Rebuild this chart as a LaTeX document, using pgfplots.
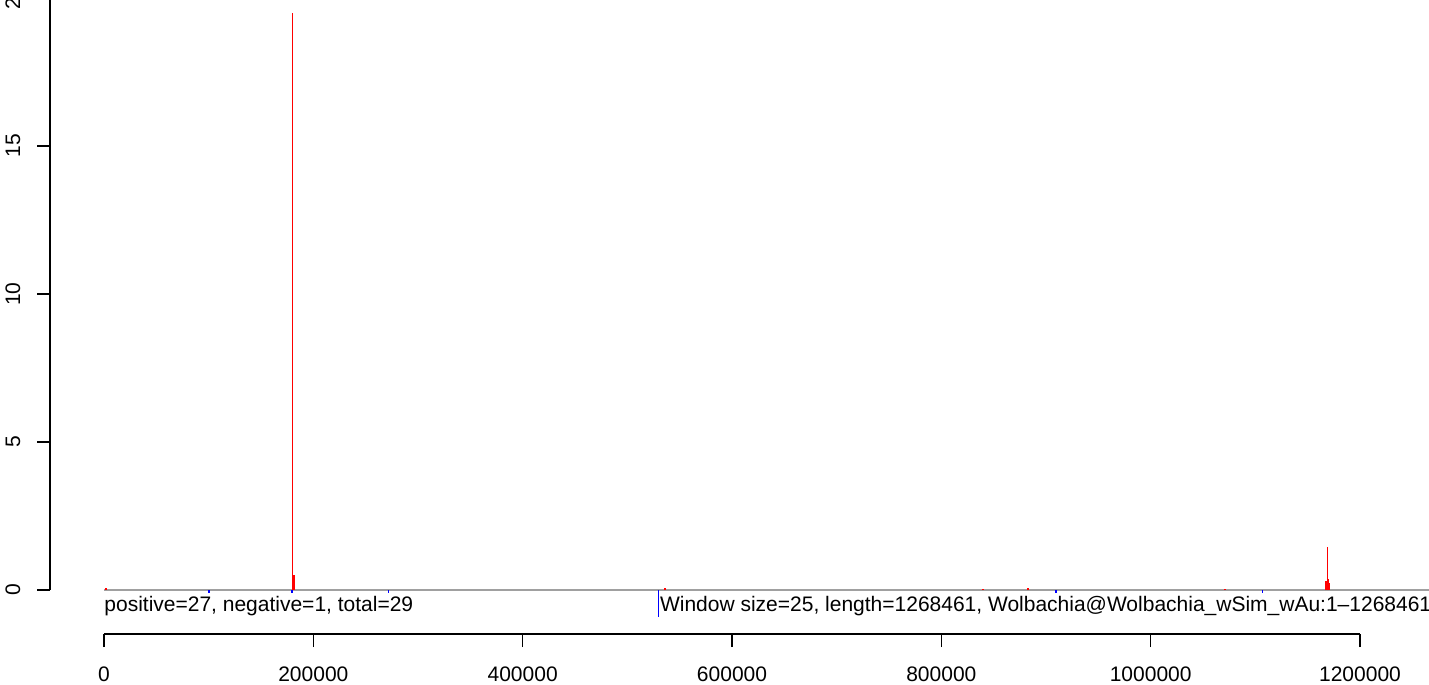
\documentclass[border=0pt]{standalone}
\usepackage{pgfplots}
\pgfplotsset{compat=1.18}
\usepackage{fontspec}
\setmainfont{Liberation Sans}
\definecolor{basegray}{HTML}{A0A0A0}
\begin{document}
\begin{tikzpicture}
\path[use as bounding box] (0,0) rectangle (714.5pt,342.5pt);
\clip (0,0) rectangle (714.5pt,342.5pt);
% main panel
\begin{axis}[
  at={(25pt,47.5pt)}, anchor=south west,
  scale only axis, width=689.5pt, height=296pt,
  xmin=-51592, xmax=1265923, ymin=0, ymax=20,
  clip=false,
  axis x line=none, axis y line*=left,
  y axis line style={black, line width=0.8pt, -},
  ytick={0,5,10,15,20},
  yticklabels={0,5,10,15,20},
  tick align=outside, major tick length=6.5pt,
  ytick style={black, line width=0.8pt},
  yticklabel shift=8.5pt,
  yticklabel style={rotate=90, anchor=base, font=\fontsize{10.5}{12}\selectfont},
]
\addplot[basegray, line width=0.9pt] coordinates {(0,0) (1268461,0)};
\addplot[red, ycomb, line width=0.8pt] coordinates {
 (2000,0.08) (180000,19.5) (180700,0.3) (181300,0.45) (181800,0.5)
 (536000,0.06) (840000,0.05) (883000,0.06) (1071000,0.05)
 (1167500,0.3) (1169000,1.46) (1169600,0.37) (1170300,0.25)
};
\addplot[blue, ycomb, line width=0.7pt] coordinates {
 (100300,-0.1) (179600,-0.1) (272000,-0.1) (530000,-0.9) (909500,-0.1) (1107000,-0.1)
};
\node[anchor=base west, font=\fontsize{10.5}{12}\selectfont, inner sep=0pt, yshift=-10.5pt] at (axis cs:0,0) {positive=27, negative=1, total=29};
\node[anchor=base east, font=\fontsize{10.5}{12}\selectfont, inner sep=0pt, yshift=-10.5pt] at (axis cs:1268461,0) {Window size=25, length=1268461, Wolbachia@Wolbachia\_wSim\_wAu:1--1268461};
\end{axis}
% bottom axis
\begin{axis}[
  at={(25pt,25.5pt)}, anchor=south west,
  scale only axis, width=689.5pt, height=10pt,
  xmin=-51592, xmax=1265923, ymin=0, ymax=1,
  clip=false,
  axis x line*=bottom, axis y line=none,
  x axis line style={opacity=0},
  xtick={0,200000,400000,600000,800000,1000000,1200000},
  xticklabels={0,200000,400000,600000,800000,1000000,1200000},
  scaled x ticks=false,
  tick align=outside, major tick length=6.5pt,
  xtick style={black, line width=0.8pt, opacity=1},
  xticklabel style={anchor=base, yshift=-17.25pt, font=\fontsize{10.5}{12}\selectfont},
]
\addplot[black, line width=0.8pt] coordinates {(0,0) (1200000,0)};
\end{axis}
\end{tikzpicture}
\end{document}
